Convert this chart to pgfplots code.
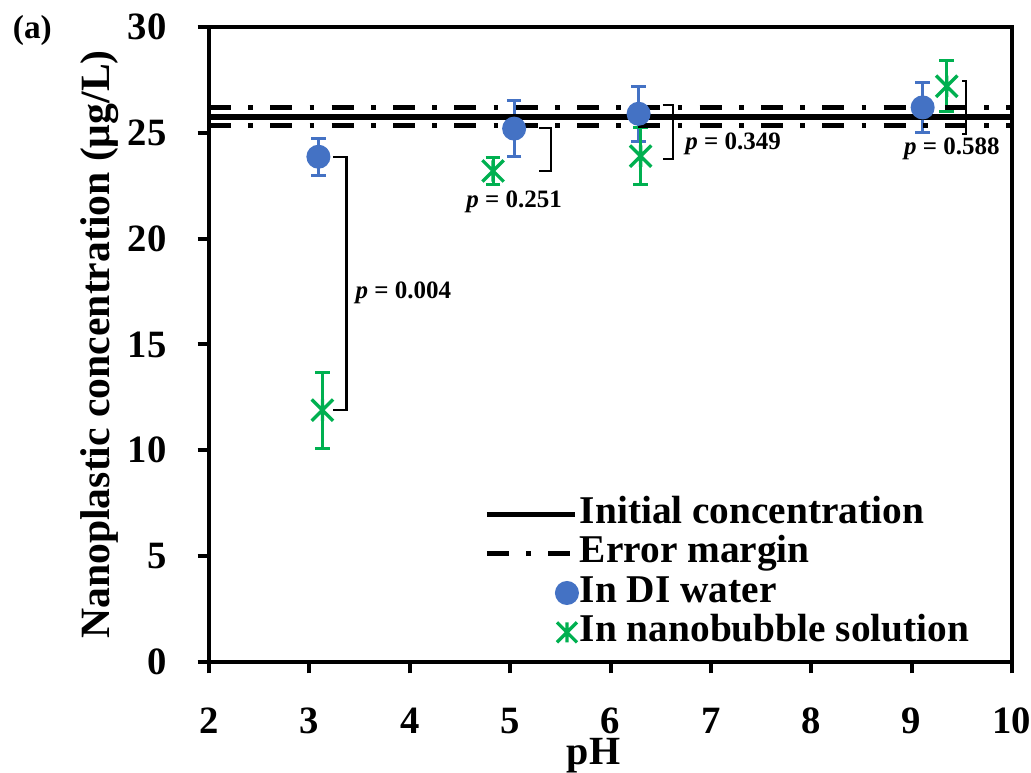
\documentclass[border=0pt]{standalone}
\usepackage{fontspec}
\setmainfont{Liberation Serif}
\usepackage{pgfplots}
\pgfplotsset{compat=1.18}
\definecolor{diblue}{RGB}{68,114,196}
\definecolor{nbgreen}{RGB}{0,176,80}

% x with a vertical bar, like the spreadsheet "star" marker
\pgfdeclareplotmark{xstar}{%
  \pgfpathmoveto{\pgfqpoint{-\pgfplotmarksize}{-\pgfplotmarksize}}%
  \pgfpathlineto{\pgfqpoint{\pgfplotmarksize}{\pgfplotmarksize}}%
  \pgfpathmoveto{\pgfqpoint{-\pgfplotmarksize}{\pgfplotmarksize}}%
  \pgfpathlineto{\pgfqpoint{\pgfplotmarksize}{-\pgfplotmarksize}}%
  \pgfpathmoveto{\pgfqpoint{0pt}{-\pgfplotmarksize}}%
  \pgfpathlineto{\pgfqpoint{0pt}{\pgfplotmarksize}}%
  \pgfusepathqstroke}

\tikzset{dashdotline/.style={line width=1.3pt, dash pattern=on 6.6pt off 5.2pt on 1.4pt off 5.2pt}}
\pgfplotsset{
  lineleg/.style={legend image code/.code={\draw[##1] (0pt,0pt) -- (26.4pt,0pt);}},
  markleg/.style={legend image code/.code={\draw[##1] plot coordinates {(24pt,0pt)};}},
}

\begin{document}
\begin{tikzpicture}
\begin{axis}[
  scale only axis, clip=false,
  width=240.9pt, height=190.5pt,
  xmin=2, xmax=10, ymin=0, ymax=30,
  xtick={2,...,10}, ytick={0,5,...,30},
  axis line style={line width=1.2pt},
  tick style={line width=1.2pt, black},
  tick align=outside, major tick length=3.4pt,
  xtick pos=bottom, ytick pos=left,
  /pgf/number format/assume math mode=true,
  ticklabel style={font=\bfseries\fontsize{11.6}{11.6}\selectfont},
  xticklabel style={inner sep=1pt, yshift=-9.2pt},
  yticklabel style={xshift=-5.8pt},
  xlabel={pH}, ylabel={Nanoplastic concentration (μg/L)},
  label style={font=\bfseries\fontsize{12.5}{12.5}\selectfont},
  xlabel style={font=\bfseries\fontsize{12}{12}\selectfont,
    at={(axis description cs:0.479,-0.162)}, anchor=base, inner sep=0pt},
  ylabel style={at={(axis description cs:-0.136,0.5)}, anchor=center},
  legend style={draw=none, fill=none, font=\bfseries\fontsize{11.8}{11.8}\selectfont,
    at={(axis description cs:0.342,0.263)}, anchor=north west,
    inner sep=0pt, row sep=0.6pt,
    nodes={inner sep=0.5pt, text height=7.9pt, text depth=2.3pt}},
  legend cell align=left,
]
% data: DI water
\addplot[forget plot, only marks, mark=*, mark size=3.4pt, color=diblue,
  error bars/.cd, y dir=both, y explicit,
  error bar style={line width=0.9pt, diblue},
  error mark options={rotate=90, mark size=2.2pt, line width=0.9pt, diblue}]
  coordinates {
  (3.09,23.87) +- (0,0.88)
  (5.04,25.20) +- (0,1.33)
  (6.28,25.90) +- (0,1.30)
  (9.11,26.20) +- (0,1.20)
};
% data: nanobubble solution
\addplot[forget plot, only marks, mark=xstar, mark size=3.2pt, color=nbgreen,
  mark options={line width=1pt},
  error bars/.cd, y dir=both, y explicit,
  error bar style={line width=0.9pt, nbgreen},
  error mark options={rotate=90, mark size=2.2pt, line width=0.9pt, nbgreen}]
  coordinates {
  (3.13,11.90) +- (0,1.80)
  (4.83,23.20) +- (0,0.65)
  (6.30,23.90) +- (0,1.35)
  (9.35,27.20) +- (0,1.20)
};
% reference lines
\addplot[forget plot, black, line width=1.6pt] coordinates {(2,25.75) (10,25.75)};
\addplot[forget plot, black, dashdotline] coordinates {(2,26.2) (10,26.2)};
\addplot[forget plot, black, dashdotline] coordinates {(2,25.35) (10,25.35)};

% legend
\addlegendimage{black, line width=1.6pt, lineleg}
\addlegendentry{Initial concentration}
\addlegendimage{black, dashdotline, lineleg}
\addlegendentry{Error margin}
\addlegendimage{only marks, mark=*, mark size=3.4pt, color=diblue, markleg}
\addlegendentry{In DI water}
\addlegendimage{only marks, mark=xstar, mark size=3pt, color=nbgreen, line width=1pt, markleg}
\addlegendentry{In nanobubble solution}

% significance brackets
\draw[line width=0.7pt] (axis cs:3.235,23.87) -- (axis cs:3.37,23.87) -- (axis cs:3.37,11.9) -- (axis cs:3.235,11.9);
\draw[line width=0.7pt] (axis cs:5.29,25.22) -- (axis cs:5.41,25.22) -- (axis cs:5.41,23.19) -- (axis cs:5.29,23.19);
\draw[line width=0.7pt] (axis cs:6.52,26.31) -- (axis cs:6.62,26.31) -- (axis cs:6.62,23.76) -- (axis cs:6.52,23.76);
\draw[line width=0.7pt] (axis cs:9.50,27.46) -- (axis cs:9.545,27.46) -- (axis cs:9.545,24.94) -- (axis cs:9.50,24.94);
\tikzset{plab/.style={font=\bfseries\fontsize{7.5}{7.5}\selectfont, inner sep=0pt}}
\node[plab, anchor=west] at (axis cs:3.455,17.43) {\textit{p} = 0.004};
\node[plab] at (axis cs:5.04,21.73) {\textit{p} = 0.251};
\node[plab, anchor=west] at (axis cs:6.74,24.5) {\textit{p} = 0.349};
\node[plab] at (axis cs:9.40,24.23) {\textit{p} = 0.588};

\node[font=\bfseries\fontsize{10}{10}\selectfont, anchor=west, inner sep=0pt]
  at (axis description cs:-0.245,0.995) {(a)};

\coordinate (bl) at (rel axis cs:0,0);
\coordinate (tr) at (rel axis cs:1,1);
\end{axis}
\pgfresetboundingbox
\path[use as bounding box] ([shift={(-62.7pt,-33.3pt)}]bl) rectangle ([shift={(5.7pt,8.1pt)}]tr);
\end{tikzpicture}
\end{document}
